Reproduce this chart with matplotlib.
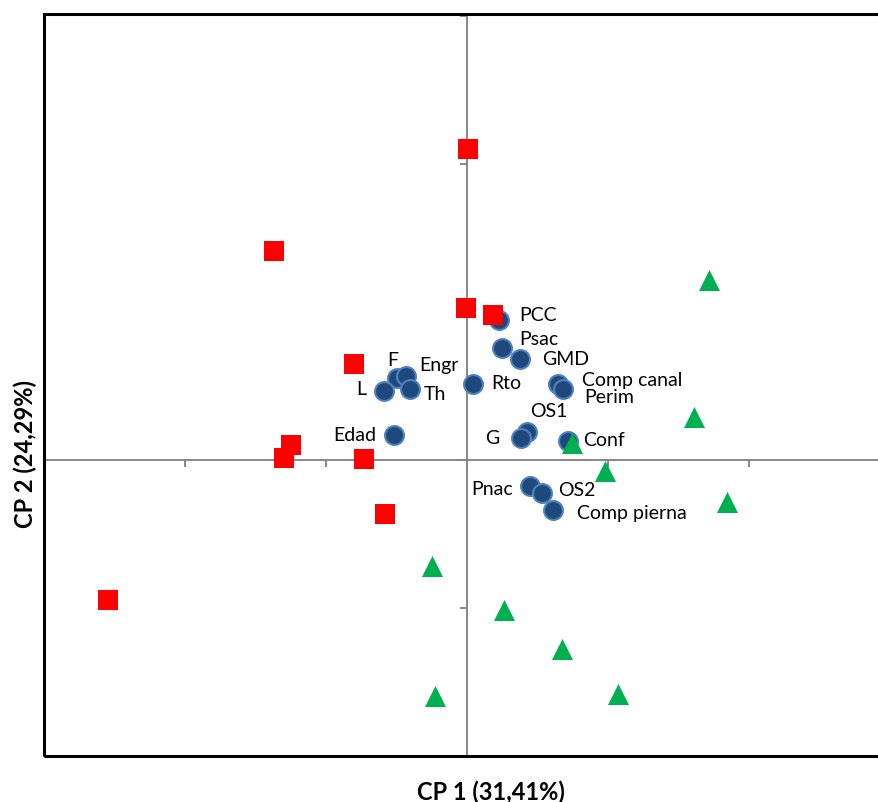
import matplotlib
matplotlib.use('Agg')
import matplotlib.pyplot as plt
from matplotlib.patches import Rectangle

# PCA biplot: group scores (squares / triangles) and variable loadings (circles)
grp1_x = [0.007, -1.369, -0.007, 0.184, -0.801, -1.248, -1.298, -0.730, -0.582, -2.546]
grp1_y = [2.100, 1.412, 1.027, 0.980, 0.649, 0.101, 0.014, 0.007, -0.365, -0.946]

grp2_x = [1.716, 1.610, 0.745, 0.979, 1.844, -0.248, 0.262, 0.674, 1.071, -0.227]
grp2_y = [1.216, 0.291, 0.115, -0.074, -0.284, -0.716, -1.014, -1.277, -1.581, -1.595]

var_names = ['PCC', 'Psac', 'GMD', 'F', 'Engr', 'L', 'Th', 'Rto', 'Comp canal',
             'Perim', 'Edad', 'OS1', 'G', 'Conf', 'Pnac', 'OS2', 'Comp pierna']
var_x = [0.227, 0.248, 0.376, -0.496, -0.433, -0.589, -0.404, 0.043, 0.645,
         0.681, -0.518, 0.426, 0.383, 0.716, 0.447, 0.532, 0.610]
var_y = [0.946, 0.757, 0.682, 0.554, 0.568, 0.466, 0.480, 0.514, 0.514,
         0.480, 0.169, 0.189, 0.149, 0.128, -0.176, -0.223, -0.338]

# label placement (pixel offsets from the marker, horizontal alignment)
label_pos = {
    'PCC': (20, 5, 'left'), 'Psac': (17, 9, 'left'), 'GMD': (22, 1, 'left'),
    'F': (-4, 18, 'center'), 'Engr': (13, 11, 'left'), 'L': (-18, 2, 'right'),
    'Th': (14, -5, 'left'), 'Rto': (18, 1, 'left'), 'Comp canal': (24, 4, 'left'),
    'Perim': (21, -8, 'left'), 'Edad': (-18, 0, 'right'), 'OS1': (3, 21, 'left'),
    'G': (-22, 0, 'right'), 'Conf': (15, 2, 'left'), 'Pnac': (-17, -2, 'right'),
    'OS2': (16, 3, 'left'), 'Comp pierna': (24, -3, 'left'),
}

plt.rcParams['font.family'] = ['Lato', 'DejaVu Sans']

fig = plt.figure(figsize=(8.79, 8.03), dpi=100)
ax = fig.add_axes([44/879, 46/803, 846/879, 742/803])
ax.set_xlim(-3, 3)
ax.set_ylim(-2, 3.013)

# axes crossing at the origin
for side in ['left', 'bottom']:
    ax.spines[side].set_position('zero')
    ax.spines[side].set_color('#868686')
    ax.spines[side].set_linewidth(1.4)
ax.spines['right'].set_visible(False)
ax.spines['top'].set_visible(False)
ax.set_xticks([-3, -2, -1, 0, 1, 2, 3])
ax.set_yticks([-2, -1, 0, 1, 2, 3])
ax.set_xticklabels([])
ax.set_yticklabels([])
ax.tick_params(direction='out', length=5, width=1.4, color='#868686')

# outer frame
ax.add_patch(Rectangle((0, 0), 1, 1, transform=ax.transAxes, fill=False,
                       edgecolor='black', lw=2.2, clip_on=False, zorder=5))

ax.scatter(var_x, var_y, s=185, marker='o', facecolor='#1F497D',
           edgecolor='#4F81BD', linewidths=1.5, zorder=3)
ax.scatter(grp1_x, grp1_y, s=210, marker='s', color='#FF0000', linewidths=0, zorder=4)
ax.scatter(grp2_x, grp2_y, s=230, marker='^', color='#00B050', linewidths=0, zorder=4)

for name, x, y in zip(var_names, var_x, var_y):
    dx, dy, ha = label_pos[name]
    ax.annotate(name, (x, y), xytext=(dx, dy), textcoords='offset pixels',
                ha=ha, va='center', fontsize=14, color='black', zorder=6)

fig.text(491/879, 1 - 792/803, 'CP 1 (31,41%)', ha='center', va='center',
         fontsize=17, fontweight='bold')
fig.text(25/879, 1 - 454/803, 'CP 2 (24,29%)', ha='center', va='center',
         fontsize=17, fontweight='bold', rotation=90)

plt.savefig('out.png', dpi=100)
plt.close()
